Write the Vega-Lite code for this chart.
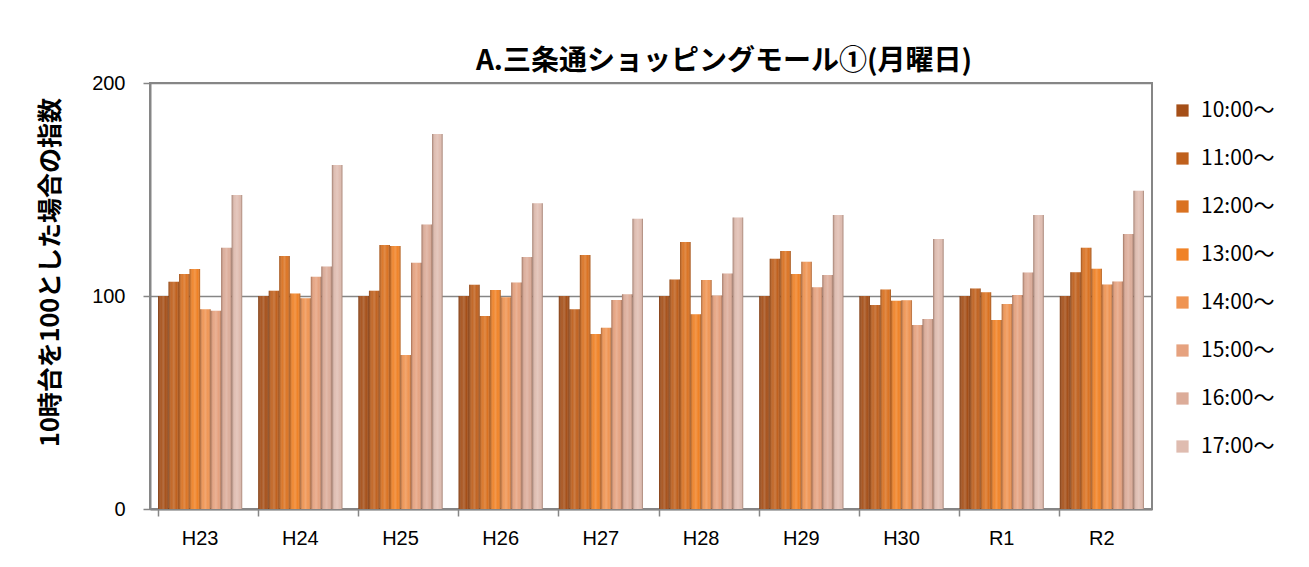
{
  "$schema": "https://vega.github.io/schema/vega-lite/v6.json",
  "width": 1002,
  "height": 426,
  "autosize": {"type": "none"},
  "padding": {"left": 150, "top": 83, "right": 157, "bottom": 58},
  "background": "white",
  "title": {
    "text": "A.三条通ショッピングモール①(月曜日)",
    "font": "Noto Sans CJK JP",
    "fontSize": 28,
    "fontWeight": "bold",
    "color": "#000000",
    "anchor": "middle",
    "dx": 73,
    "offset": -3
  },
  "config": {
    "view": {"stroke": "#868686", "strokeWidth": 2},
    "font": "Noto Sans CJK JP"
  },
  "data": {
    "values": [
      {"year": "H23", "time": "10:00～", "v": 100},
      {"year": "H23", "time": "11:00～", "v": 106.7},
      {"year": "H23", "time": "12:00～", "v": 110.3},
      {"year": "H23", "time": "13:00～", "v": 112.7},
      {"year": "H23", "time": "14:00～", "v": 93.8},
      {"year": "H23", "time": "15:00～", "v": 93.1},
      {"year": "H23", "time": "16:00～", "v": 122.7},
      {"year": "H23", "time": "17:00～", "v": 147.4},
      {"year": "H24", "time": "10:00～", "v": 100},
      {"year": "H24", "time": "11:00～", "v": 102.5},
      {"year": "H24", "time": "12:00～", "v": 118.8},
      {"year": "H24", "time": "13:00～", "v": 101.2},
      {"year": "H24", "time": "14:00～", "v": 99},
      {"year": "H24", "time": "15:00～", "v": 109},
      {"year": "H24", "time": "16:00～", "v": 113.8},
      {"year": "H24", "time": "17:00～", "v": 161.5},
      {"year": "H25", "time": "10:00～", "v": 100},
      {"year": "H25", "time": "11:00～", "v": 102.5},
      {"year": "H25", "time": "12:00～", "v": 124},
      {"year": "H25", "time": "13:00～", "v": 123.5},
      {"year": "H25", "time": "14:00～", "v": 72.3},
      {"year": "H25", "time": "15:00～", "v": 115.6},
      {"year": "H25", "time": "16:00～", "v": 133.6},
      {"year": "H25", "time": "17:00～", "v": 176},
      {"year": "H26", "time": "10:00～", "v": 100},
      {"year": "H26", "time": "11:00～", "v": 105.3},
      {"year": "H26", "time": "12:00～", "v": 90.6},
      {"year": "H26", "time": "13:00～", "v": 102.8},
      {"year": "H26", "time": "14:00～", "v": 99.4},
      {"year": "H26", "time": "15:00～", "v": 106.3},
      {"year": "H26", "time": "16:00～", "v": 118.3},
      {"year": "H26", "time": "17:00～", "v": 143.6},
      {"year": "H27", "time": "10:00～", "v": 100},
      {"year": "H27", "time": "11:00～", "v": 93.8},
      {"year": "H27", "time": "12:00～", "v": 119.2},
      {"year": "H27", "time": "13:00～", "v": 82.2},
      {"year": "H27", "time": "14:00～", "v": 85.1},
      {"year": "H27", "time": "15:00～", "v": 98.1},
      {"year": "H27", "time": "16:00～", "v": 100.8},
      {"year": "H27", "time": "17:00～", "v": 136.3},
      {"year": "H28", "time": "10:00～", "v": 100},
      {"year": "H28", "time": "11:00～", "v": 107.8},
      {"year": "H28", "time": "12:00～", "v": 125.4},
      {"year": "H28", "time": "13:00～", "v": 91.4},
      {"year": "H28", "time": "14:00～", "v": 107.5},
      {"year": "H28", "time": "15:00～", "v": 100.2},
      {"year": "H28", "time": "16:00～", "v": 110.6},
      {"year": "H28", "time": "17:00～", "v": 136.8},
      {"year": "H29", "time": "10:00～", "v": 100},
      {"year": "H29", "time": "11:00～", "v": 117.5},
      {"year": "H29", "time": "12:00～", "v": 121.1},
      {"year": "H29", "time": "13:00～", "v": 110.3},
      {"year": "H29", "time": "14:00～", "v": 116.1},
      {"year": "H29", "time": "15:00～", "v": 104.1},
      {"year": "H29", "time": "16:00～", "v": 109.9},
      {"year": "H29", "time": "17:00～", "v": 138},
      {"year": "H30", "time": "10:00～", "v": 100},
      {"year": "H30", "time": "11:00～", "v": 95.8},
      {"year": "H30", "time": "12:00～", "v": 103},
      {"year": "H30", "time": "13:00～", "v": 97.8},
      {"year": "H30", "time": "14:00～", "v": 98},
      {"year": "H30", "time": "15:00～", "v": 86.4},
      {"year": "H30", "time": "16:00～", "v": 89.2},
      {"year": "H30", "time": "17:00～", "v": 126.8},
      {"year": "R1", "time": "10:00～", "v": 100},
      {"year": "R1", "time": "11:00～", "v": 103.5},
      {"year": "R1", "time": "12:00～", "v": 101.8},
      {"year": "R1", "time": "13:00～", "v": 88.7},
      {"year": "R1", "time": "14:00～", "v": 96.2},
      {"year": "R1", "time": "15:00～", "v": 100.5},
      {"year": "R1", "time": "16:00～", "v": 111},
      {"year": "R1", "time": "17:00～", "v": 138},
      {"year": "R2", "time": "10:00～", "v": 100},
      {"year": "R2", "time": "11:00～", "v": 111.1},
      {"year": "R2", "time": "12:00～", "v": 122.7},
      {"year": "R2", "time": "13:00～", "v": 112.8},
      {"year": "R2", "time": "14:00～", "v": 105.4},
      {"year": "R2", "time": "15:00～", "v": 106.8},
      {"year": "R2", "time": "16:00～", "v": 129.1},
      {"year": "R2", "time": "17:00～", "v": 149.4}
    ]
  },
  "encoding": {
    "x": {
      "field": "year",
      "type": "nominal",
      "sort": null,
      "scale": {"paddingInner": 0.16, "paddingOuter": 0.08},
      "axis": {
        "title": null,
        "labelAngle": 0,
        "labelFont": "Liberation Sans",
        "labelFontSize": 20,
        "labelColor": "#000000",
        "labelPadding": 12,
        "domainColor": "#868686",
        "domainWidth": 2,
        "tickColor": "#868686",
        "tickWidth": 1.5,
        "tickSize": 7,
        "bandPosition": 0
      }
    },
    "xOffset": {"field": "time", "type": "nominal", "sort": null, "scale": {"paddingInner": 0, "paddingOuter": 0}},
    "y": {
      "field": "v",
      "type": "quantitative",
      "scale": {"domain": [0, 200], "nice": false},
      "axis": {
        "values": [0, 100, 200],
        "title": "10時台を100とした場合の指数",
        "titleFont": "Noto Sans CJK JP",
        "titleFontSize": 25,
        "titleFontWeight": "bold",
        "titleColor": "#000000",
        "titleX": -100,
        "titleY": 189,
        "titleAlign": "center",
        "titleBaseline": "middle",
        "titleAngle": -90,
        "labelFont": "Liberation Sans",
        "labelFontSize": 20,
        "labelColor": "#000000",
        "labelPadding": 18,
        "domainColor": "#868686",
        "domainWidth": 2,
        "tickColor": "#868686",
        "tickWidth": 1.5,
        "tickSize": 7,
        "grid": true,
        "gridColor": "#868686",
        "gridWidth": 1.5
      }
    }
  },
  "layer": [
    {
      "mark": {"type": "bar"},
      "encoding": {
        "color": {
          "field": "time",
          "type": "nominal",
          "sort": null,
          "scale": {
            "range": ["#a54f18", "#bf601d", "#da7221", "#f08226", "#ef9452", "#e6a27f", "#dcac99", "#dfbcb0"]
          },
          "legend": {
            "title": null,
            "orient": "none",
            "legendX": 1022,
            "legendY": 17,
            "symbolType": "square",
            "symbolSize": 150,
            "symbolStrokeWidth": 0,
            "labelFont": "Noto Sans CJK JP",
            "labelFontSize": 21,
            "labelColor": "#000000",
            "labelOffset": 8,
            "rowPadding": 26,
            "labelLimit": 200
          }
        }
      }
    },
    {
      "mark": {
        "type": "bar",
        "fill": {
          "gradient": "linear",
          "x1": 0, "y1": 0, "x2": 1, "y2": 0,
          "stops": [
            {"offset": 0, "color": "rgba(60,20,0,0.4)"},
            {"offset": 0.3, "color": "rgba(255,255,255,0.05)"},
            {"offset": 0.5, "color": "rgba(255,255,255,0.18)"},
            {"offset": 0.75, "color": "rgba(255,255,255,0.0)"},
            {"offset": 1, "color": "rgba(60,20,0,0.4)"}
          ]
        }
      }
    }
  ]
}
